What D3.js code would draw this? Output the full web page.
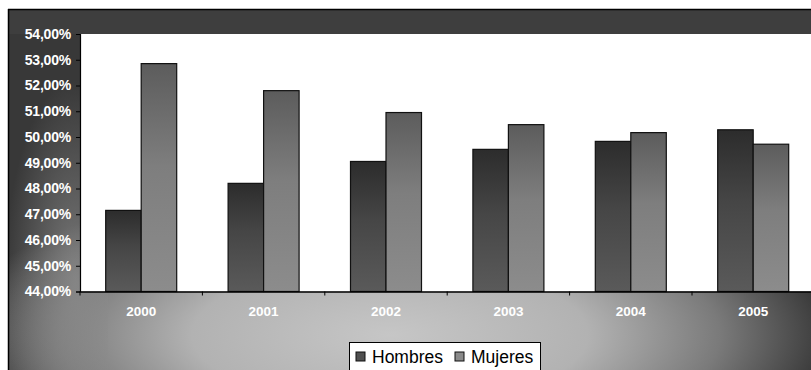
<!DOCTYPE html>
<html>
<head>
<meta charset="utf-8">
<script src="https://cdn.jsdelivr.net/npm/d3@7"></script>
<style>
  html, body { margin: 0; padding: 0; background: #fff; }
  svg { display: block; }
</style>
</head>
<body>
<svg id="chart" width="811" height="370"></svg>
<script>
// Share of population by sex, 2000–2005
const years = ["2000", "2001", "2002", "2003", "2004", "2005"];
const seriesNames = ["Hombres", "Mujeres"];
const hombres = [0.4715, 0.4820, 0.4905, 0.4952, 0.4983, 0.5028];
const mujeres = [0.5285, 0.5180, 0.5095, 0.5048, 0.5017, 0.4972];
const yTicks = [0.44, 0.45, 0.46, 0.47, 0.48, 0.49, 0.50, 0.51, 0.52, 0.53, 0.54];

const svg = d3.select("#chart");
const W = 811, H = 370;
const plot = { left: 80, top: 34, right: 814.4, bottom: 291.5 };

const esLocale = d3.formatLocale({ decimal: ",", thousands: ".", grouping: [3], currency: ["", "€"] });
const fmtPct = esLocale.format(".2%");

const defs = svg.append("defs");

// Chart-area fill: light glow below the plot fading to dark edges
const bg = defs.append("radialGradient")
  .attr("id", "bgGrad")
  .attr("gradientUnits", "userSpaceOnUse")
  .attr("cx", 390).attr("cy", 335).attr("r", 440)
  .attr("gradientTransform", "translate(390,335) scale(1,0.36) translate(-390,-335)");
[[0, "#c6c6c6"], [0.45, "#b2b2b2"], [0.75, "#7a7a7a"], [1, "#383838"]]
  .forEach(([o, c]) => bg.append("stop").attr("offset", o).attr("stop-color", c));

// faint lift around the value labels on the left
const side = defs.append("radialGradient")
  .attr("id", "sideGrad")
  .attr("gradientUnits", "userSpaceOnUse")
  .attr("cx", 75).attr("cy", 280).attr("r", 200)
  .attr("gradientTransform", "translate(75,280) scale(0.35,1) translate(-75,-280)");
side.append("stop").attr("offset", 0).attr("stop-color", "#8a8a8a").attr("stop-opacity", 0.8);
side.append("stop").attr("offset", 1).attr("stop-color", "#8a8a8a").attr("stop-opacity", 0);

function barGradient(id, top, mid, bottom) {
  const g = defs.append("linearGradient").attr("id", id)
    .attr("x1", 0).attr("y1", 0).attr("x2", 0).attr("y2", 1);
  g.append("stop").attr("offset", 0).attr("stop-color", top);
  g.append("stop").attr("offset", 0.45).attr("stop-color", mid);
  g.append("stop").attr("offset", 1).attr("stop-color", bottom);
}
barGradient("gradH", "#2c2c2c", "#464646", "#5a5a5a");
barGradient("gradM", "#5c5c5c", "#7e7e7e", "#8c8c8c");

// Chart area
svg.append("rect")
  .attr("x", 8).attr("y", 9).attr("width", W).attr("height", H)
  .attr("fill", "#383838");
svg.append("rect")
  .attr("x", 8).attr("y", 9).attr("width", W).attr("height", H)
  .attr("fill", "url(#bgGrad)");
svg.append("rect")
  .attr("x", 8).attr("y", 9).attr("width", 100).attr("height", H)
  .attr("fill", "url(#sideGrad)");
// dark band across the top of the chart area
svg.append("rect")
  .attr("x", 8).attr("y", 9).attr("width", W).attr("height", plot.top - 9)
  .attr("fill", "#3e3e3e");
svg.append("line")
  .attr("x1", 8).attr("x2", W).attr("y1", 9.5).attr("y2", 9.5)
  .attr("stroke", "#000").attr("stroke-width", 1.5);
svg.append("line")
  .attr("x1", 8.5).attr("x2", 8.5).attr("y1", 9).attr("y2", H)
  .attr("stroke", "#000").attr("stroke-width", 1.5);

// Plot area
svg.append("rect")
  .attr("x", plot.left).attr("y", plot.top)
  .attr("width", plot.right - plot.left).attr("height", plot.bottom - plot.top)
  .attr("fill", "#ffffff");

const x0 = d3.scaleBand().domain(years).range([plot.left, plot.right]).padding(0);
const x1 = d3.scaleBand().domain(seriesNames).range([0, x0.bandwidth()])
  .paddingInner(0).paddingOuter(0.724);
const y = d3.scaleLinear().domain([0.44, 0.54]).range([plot.bottom, plot.top]);

const rows = years.map((yr, i) => ({ year: yr, values: [
  { name: "Hombres", v: hombres[i] },
  { name: "Mujeres", v: mujeres[i] }
]}));

const groups = svg.append("g").selectAll("g").data(rows).join("g")
  .attr("transform", d => `translate(${x0(d.year)},0)`);
groups.selectAll("rect").data(d => d.values).join("rect")
  .attr("x", d => x1(d.name))
  .attr("y", d => y(d.v))
  .attr("width", x1.bandwidth())
  .attr("height", d => y(0.44) - y(d.v))
  .attr("fill", d => d.name === "Hombres" ? "url(#gradH)" : "url(#gradM)")
  .attr("stroke", "#111")
  .attr("stroke-width", 1.2);

// Y axis
const yAxis = svg.append("g")
  .attr("transform", `translate(${plot.left},0)`)
  .call(d3.axisLeft(y).tickValues(yTicks).tickFormat(fmtPct).tickSize(4).tickPadding(5));
yAxis.select(".domain").attr("stroke", "#000").attr("stroke-width", 1.2);
yAxis.selectAll(".tick line").attr("stroke", "#000");
yAxis.selectAll("text")
  .attr("fill", "#ffffff")
  .attr("font-family", "Liberation Sans, Arial, sans-serif")
  .attr("font-weight", "bold")
  .attr("font-size", "14px")
  .attr("letter-spacing", "-0.2px");

// X axis
const xAxis = svg.append("g")
  .attr("transform", `translate(0,${plot.bottom})`)
  .call(d3.axisBottom(x0).tickSize(0).tickPadding(15));
xAxis.select(".domain").attr("stroke", "#000").attr("stroke-width", 1.5);
xAxis.selectAll("text")
  .attr("fill", "#ffffff")
  .attr("font-family", "Liberation Sans, Arial, sans-serif")
  .attr("font-weight", "bold")
  .attr("font-size", "13.5px");
// boundary ticks between categories
svg.append("g").selectAll("line").data(years).join("line")
  .attr("x1", d => x0(d)).attr("x2", d => x0(d))
  .attr("y1", plot.bottom).attr("y2", plot.bottom + 4)
  .attr("stroke", "#000");

// Legend
const legend = svg.append("g").attr("transform", "translate(349,342)");
legend.append("rect")
  .attr("x", 0.5).attr("y", 0.5).attr("width", 191).attr("height", 40)
  .attr("fill", "#ffffff").attr("stroke", "#000").attr("stroke-width", 1);
const legendItems = [
  { name: "Hombres", fill: "#505050", x: 7 },
  { name: "Mujeres", fill: "#8a8a8a", x: 106 }
];
const li = legend.selectAll("g.item").data(legendItems).join("g")
  .attr("class", "item")
  .attr("transform", d => `translate(${d.x},0)`);
li.append("rect")
  .attr("x", 0).attr("y", 10).attr("width", 9).attr("height", 9)
  .attr("fill", d => d.fill).attr("stroke", "#111").attr("stroke-width", 1);
li.append("text")
  .attr("x", 16).attr("y", 20.5)
  .attr("font-family", "Liberation Sans, Arial, sans-serif")
  .attr("font-size", "17.5px")
  .attr("fill", "#000")
  .text(d => d.name);
</script>
</body>
</html>
